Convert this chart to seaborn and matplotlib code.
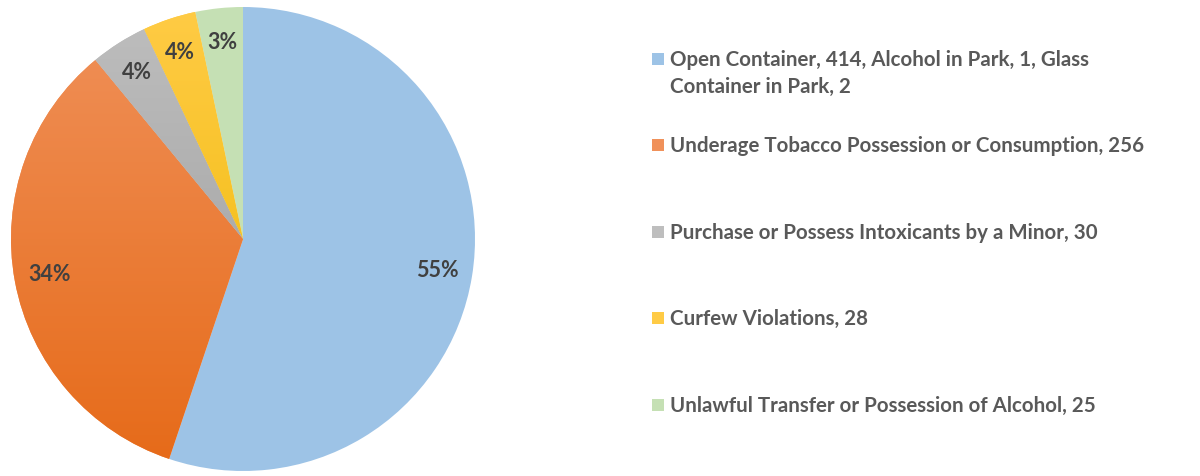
import numpy as np
import seaborn as sns
import matplotlib.pyplot as plt
from matplotlib.colors import LinearSegmentedColormap
from matplotlib.patches import Rectangle

categories = [
    'Open Container, 414, Alcohol in Park, 1, Glass\nContainer in Park, 2',
    'Underage Tobacco Possession or Consumption, 256',
    'Purchase or Possess Intoxicants by a Minor, 30',
    'Curfew Violations, 28',
    'Unlawful Transfer or Possession of Alcohol, 25',
]
counts = [417, 256, 30, 28, 25]

# top / bottom colour of each slice (Excel style gradient fill)
top_colors = ['#9DC3E6', '#F0915A', '#BEBEBE', '#FFCB45', '#C5E0B4']
bottom_colors = ['#9DC3E6', '#E66A18', '#9A9A9A', '#EDB800', '#C5E0B4']

sns.set_theme(style='white')
plt.rcParams['font.family'] = ['Lato', 'DejaVu Sans']

fig = plt.figure(figsize=(12, 4.76), dpi=100)
ax = fig.add_axes([243 / 1200 - 232 / 1200, 1 - (239 + 232) / 476, 464 / 1200, 464 / 476])

wedges, texts, autotexts = ax.pie(
    counts, colors=top_colors, startangle=90, counterclock=False,
    autopct='%1.0f%%', pctdistance=0.85,
    wedgeprops=dict(linewidth=0),
    textprops=dict(color='#404040', fontsize=15.5, fontweight='bold'))

# gradient fills clipped to each wedge
grad = np.linspace(0, 1, 256).reshape(-1, 1)
for w, c1, c2 in zip(wedges, top_colors, bottom_colors):
    if c1 == c2:
        continue
    cmap = LinearSegmentedColormap.from_list('g', [c1, c2])
    im = ax.imshow(grad, cmap=cmap, extent=(-1, 1, -1, 1), origin='upper',
                   aspect='auto', zorder=w.get_zorder() + 0.1)
    im.set_clip_path(w)

for t in autotexts:
    t.set_zorder(5)

ax.set_xlim(-1.0, 1.0)
ax.set_ylim(-1.0, 1.0)
ax.set_aspect('equal')
ax.axis('off')

# legend drawn by hand to keep the Excel row spacing
row_y = [59, 145, 232, 318, 405]
for lab, col, y in zip(categories, top_colors, row_y):
    fig.patches.append(Rectangle((652 / 1200, 1 - (y + 6) / 476), 12 / 1200, 12 / 476,
                                 transform=fig.transFigure, facecolor=col,
                                 edgecolor='none'))
    fig.text(670 / 1200, 1 - (y - 9) / 476, lab, ha='left', va='top',
             fontsize=14.8, fontweight='bold', color='#595959', linespacing=1.42)

fig.savefig('out.png', dpi=100)
